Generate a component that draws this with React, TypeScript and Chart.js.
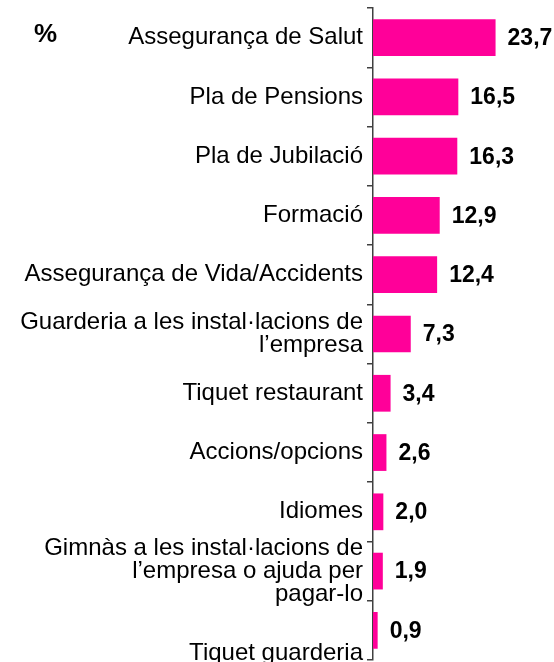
import React, { useEffect, useRef } from "react";
import { Chart, registerables } from "chart.js";

Chart.register(...registerables);

const categories: (string | string[])[] = [
  "Assegurança de Salut",
  "Pla de Pensions",
  "Pla de Jubilació",
  "Formació",
  "Assegurança de Vida/Accidents",
  ["Guarderia a les instal·lacions de", "l’empresa"],
  "Tiquet restaurant",
  "Accions/opcions",
  "Idiomes",
  ["Gimnàs a les instal·lacions de", "l’empresa o ajuda per", "pagar-lo"],
  ["", "", "Tiquet guarderia"],
];

const values: number[] = [23.7, 16.5, 16.3, 12.9, 12.4, 7.3, 3.4, 2.6, 2.0, 1.9, 0.9];

const unitLabel = "%";
const barColor = "#FF0099";
const FONT = "'Liberation Sans', Arial, sans-serif";

const valueLabelPlugin = {
  id: "valueLabels",
  afterDatasetsDraw(chart: any) {
    const ctx = chart.ctx;
    const meta = chart.getDatasetMeta(0);
    ctx.save();
    ctx.font = `bold 23px ${FONT}`;
    ctx.fillStyle = "#000";
    ctx.textAlign = "left";
    ctx.textBaseline = "middle";
    meta.data.forEach((bar: any, i: number) => {
      const txt = values[i].toFixed(1).replace(".", ",");
      ctx.fillText(txt, bar.x + 12, bar.y + 1);
    });
    // unit label
    const y = chart.scales.y.getPixelForValue(0);
    ctx.font = `bold 26px ${FONT}`;
    ctx.fillText(unitLabel, 34, y - 3);
    ctx.restore();
  },
};

export default function App() {
  const ref = useRef<HTMLCanvasElement | null>(null);

  useEffect(() => {
    document.body.style.margin = "0";
    if (!ref.current) return;
    const chart = new Chart(ref.current, {
      type: "bar",
      data: {
        labels: categories,
        datasets: [
          {
            data: values,
            backgroundColor: barColor,
            borderWidth: 0,
            categoryPercentage: 1,
            barPercentage: 0.62,
          },
        ],
      },
      options: {
        indexAxis: "y",
        animation: false,
        responsive: true,
        maintainAspectRatio: false,
        layout: { padding: { top: 8, bottom: 2, left: 0, right: 0 } },
        plugins: {
          legend: { display: false },
          tooltip: { enabled: false },
        },
        scales: {
          x: {
            display: false,
            min: 0,
            max: 35,
          },
          y: {
            afterFit: (s: any) => {
              s.width = 373;
              s.paddingTop = 0;
              s.paddingBottom = 0;
            },
            grid: {
              display: true,
              offset: true,
              drawOnChartArea: false,
              drawTicks: true,
              tickLength: 6,
              color: "#404040",
              lineWidth: 1.5,
            },
            border: { display: true, color: "#404040", width: 1.5 },
            ticks: {
              autoSkip: false,
              padding: 4,
              color: "#000",
              font: { family: FONT, size: 24, lineHeight: 0.96 },
            },
          },
        },
      },
      plugins: [valueLabelPlugin],
    });
    return () => chart.destroy();
  }, []);

  return (
    <div style={{ position: "relative", width: 554, height: 662 }}>
      <canvas ref={ref} />
    </div>
  );
}
